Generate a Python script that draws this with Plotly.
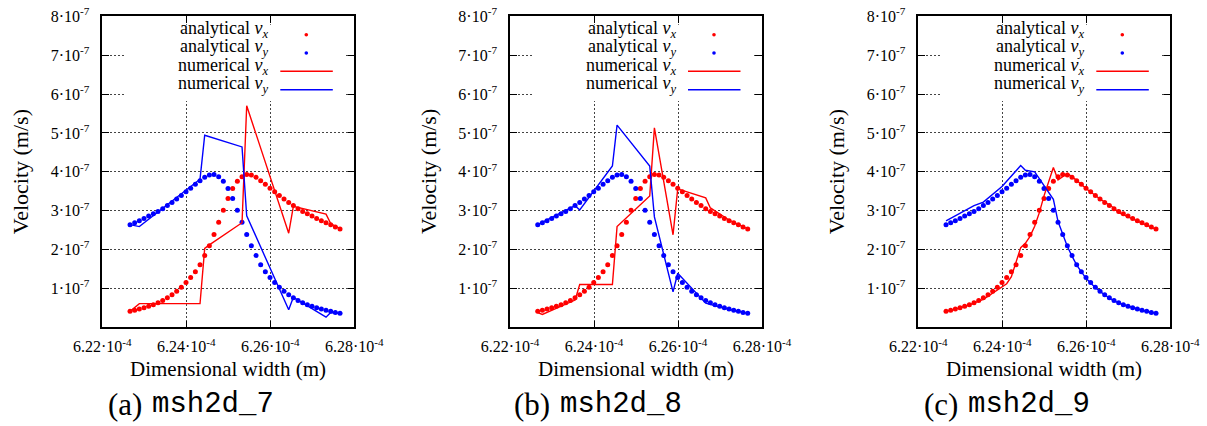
import plotly.graph_objects as go

W, H = 1207, 426
X_UNIT = 1e-4   # x values below are in units of 1e-4 m
V_UNIT = 1e-7   # velocities below are in units of 1e-7 m/s

# ---------------- analytical solution (same in all panels) ----------------
x_analytical = [6.22660, 6.22771, 6.22882, 6.22993, 6.23104, 6.23216, 6.23327, 6.23438,
                6.23549, 6.23660, 6.23771, 6.23882, 6.23993, 6.24104, 6.24216, 6.24327,
                6.24438, 6.24549, 6.24660, 6.24771, 6.24882, 6.24993, 6.25104, 6.25216,
                6.25327, 6.25438, 6.25549, 6.25660, 6.25771, 6.25882, 6.25993, 6.26104,
                6.26216, 6.26327, 6.26438, 6.26549, 6.26660, 6.26771, 6.26882, 6.26993,
                6.27104, 6.27216, 6.27327, 6.27438, 6.27549, 6.27660]
vx_analytical = [0.41, 0.44, 0.47, 0.50, 0.54, 0.58, 0.63, 0.69, 0.76, 0.84, 0.93, 1.03,
                 1.15, 1.28, 1.43, 1.61, 1.85, 2.10, 2.39, 2.70, 3.01, 3.31, 3.57, 3.76,
                 3.87, 3.93, 3.92, 3.86, 3.77, 3.68, 3.58, 3.49, 3.39, 3.30, 3.21, 3.13,
                 3.05, 2.98, 2.92, 2.86, 2.80, 2.74, 2.69, 2.64, 2.58, 2.53]
vy_analytical = [2.64, 2.69, 2.74, 2.80, 2.86, 2.92, 2.98, 3.05, 3.13, 3.21, 3.30, 3.39,
                 3.49, 3.58, 3.68, 3.77, 3.86, 3.92, 3.93, 3.87, 3.76, 3.57, 3.31, 3.01,
                 2.70, 2.39, 2.10, 1.85, 1.61, 1.43, 1.28, 1.15, 1.03, 0.93, 0.84, 0.76,
                 0.69, 0.63, 0.58, 0.54, 0.50, 0.47, 0.44, 0.41, 0.38, 0.36]

# ---------------- numerical solutions ----------------
# (a) msh2d_7
num_a_vx_x = [6.22660, 6.22882, 6.24327, 6.24438, 6.24549, 6.25327, 6.25438, 6.26438,
              6.26549, 6.27327, 6.27438, 6.27660]
num_a_vx = [0.41, 0.61, 0.61, 2.03, 2.12, 2.69, 5.70, 2.42, 3.11, 2.91, 2.67, 2.54]
num_a_vy_x = [6.22660, 6.22882, 6.24327, 6.24438, 6.25327, 6.25438, 6.26438, 6.26549,
              6.27327, 6.27438, 6.27660]
num_a_vy = [2.64, 2.59, 3.81, 4.94, 4.64, 2.87, 0.45, 0.77, 0.26, 0.38, 0.36]

# (b) msh2d_8
num_b_vx_x = [6.22660, 6.22771, 6.23549, 6.23660, 6.24438, 6.24549, 6.25327, 6.25438,
              6.25882, 6.25993, 6.26660, 6.26771, 6.27216, 6.27660]
num_b_vx = [0.38, 0.33, 0.70, 1.10, 1.10, 2.59, 3.38, 5.13, 2.38, 3.56, 3.33, 3.07, 2.76, 2.53]
num_b_vy_x = [6.22660, 6.23549, 6.23660, 6.24438, 6.24549, 6.25327, 6.25438, 6.25882,
              6.25993, 6.26660, 6.27104, 6.27660]
num_b_vy = [2.64, 3.13, 3.02, 4.15, 5.20, 4.15, 2.84, 0.91, 1.39, 0.62, 0.49, 0.36]

# (c) msh2d_9
num_c_vx_x = [6.22660, 6.23104, 6.23549, 6.23993, 6.24104, 6.24216, 6.24327, 6.24438,
              6.24549, 6.24660, 6.24771, 6.24882, 6.24993, 6.25104, 6.25216, 6.25327,
              6.25549, 6.25771, 6.25993, 6.26327, 6.26660, 6.26771, 6.27104, 6.27660]
num_c_vx = [0.41, 0.53, 0.72, 1.03, 1.12, 1.30, 1.65, 2.05, 2.16, 2.34, 2.60, 2.95,
            3.38, 3.75, 4.11, 3.79, 3.96, 3.78, 3.57, 3.30, 3.07, 2.95, 2.79, 2.52]
num_c_vy_x = [6.22660, 6.23327, 6.23549, 6.23993, 6.24438, 6.24549, 6.24771, 6.25216,
              6.25327, 6.25438, 6.25549, 6.25660, 6.25771, 6.25993, 6.26216, 6.26438,
              6.26660, 6.26882, 6.27104, 6.27327, 6.27660]
num_c_vy = [2.74, 3.13, 3.22, 3.62, 4.16, 4.04, 4.00, 3.29, 2.72, 2.38, 2.08, 1.83,
            1.60, 1.26, 1.02, 0.83, 0.68, 0.58, 0.50, 0.44, 0.36]

# ---------------- labels ----------------
x_tick_values = [6.22, 6.24, 6.26, 6.28]
x_tick_labels = ["6.22·10<sup>-4</sup>", "6.24·10<sup>-4</sup>",
                 "6.26·10<sup>-4</sup>", "6.28·10<sup>-4</sup>"]
y_tick_values = [1, 2, 3, 4, 5, 6, 7, 8]
y_tick_labels = ["1·10<sup>-7</sup>", "2·10<sup>-7</sup>", "3·10<sup>-7</sup>",
                 "4·10<sup>-7</sup>", "5·10<sup>-7</sup>", "6·10<sup>-7</sup>",
                 "7·10<sup>-7</sup>", "8·10<sup>-7</sup>"]
legend_labels = ["analytical <i>v<sub>x</sub></i>", "analytical <i>v<sub>y</sub></i>",
                 "numerical <i>v<sub>x</sub></i>", "numerical <i>v<sub>y</sub></i>"]
panel_letters = ["(a)", "(b)", "(c)"]
mesh_names = ["msh2d_7", "msh2d_8", "msh2d_9"]
x_title = "Dimensional width (m)"
y_title = "Velocity (m/s)"

numerical = [
    (num_a_vx_x, num_a_vx, num_a_vy_x, num_a_vy),
    (num_b_vx_x, num_b_vx, num_b_vy_x, num_b_vy),
    (num_c_vx_x, num_c_vx, num_c_vy_x, num_c_vy),
]

# ---------------- layout geometry (pixels) ----------------
RED = "#ff0000"
BLUE = "#0000ff"
SERIF = "Liberation Serif, Times New Roman, serif"
MONO = "Liberation Mono, Courier New, monospace"
PLOT_LEFTS = [102.3, 510.0, 918.3]
PLOT_W = 252.0
PLOT_TOP, PLOT_BOT = 16.3, 327.3
PLOT_H = PLOT_BOT - PLOT_TOP


def px(x):
    return x / W


def py(y):
    return 1 - y / H


fig = go.Figure()
layout = dict(
    template="none",
    width=W, height=H, autosize=False,
    margin=dict(l=0, r=0, t=0, b=0, pad=0, autoexpand=False),
    paper_bgcolor="white", plot_bgcolor="white",
    showlegend=False,
    font=dict(family=SERIF, color="black"),
)
shapes = []
annotations = []

for k in range(3):
    n = "" if k == 0 else str(k + 1)
    xa, ya = "x" + n, "y" + n
    L = PLOT_LEFTS[k]
    nvx_x, nvx, nvy_x, nvy = numerical[k]

    fig.add_trace(go.Scatter(
        x=[v * X_UNIT for v in x_analytical], y=[v * V_UNIT for v in vx_analytical],
        mode="markers", marker=dict(color=RED, size=5, line=dict(width=0)),
        xaxis=xa, yaxis=ya))
    fig.add_trace(go.Scatter(
        x=[v * X_UNIT for v in x_analytical], y=[v * V_UNIT for v in vy_analytical],
        mode="markers", marker=dict(color=BLUE, size=5, line=dict(width=0)),
        xaxis=xa, yaxis=ya))
    fig.add_trace(go.Scatter(
        x=[v * X_UNIT for v in nvx_x], y=[v * V_UNIT for v in nvx],
        mode="lines", line=dict(color=RED, width=1.4), xaxis=xa, yaxis=ya))
    fig.add_trace(go.Scatter(
        x=[v * X_UNIT for v in nvy_x], y=[v * V_UNIT for v in nvy],
        mode="lines", line=dict(color=BLUE, width=1.4), xaxis=xa, yaxis=ya))

    common = dict(
        automargin=False,
        showline=True, linecolor="black", linewidth=1.6, mirror="ticks",
        ticks="inside", ticklen=7, tickwidth=1.2, tickcolor="black",
        showgrid=True, gridcolor="#444", gridwidth=1, griddash="1.5px,2.5px",
        zeroline=False, tickfont=dict(family=SERIF, size=16, color="black"),
        tickmode="array", tickangle=0,
    )
    layout["xaxis" + n] = dict(
        common, domain=[px(L), px(L + PLOT_W)], anchor=ya,
        range=[x_tick_values[0] * X_UNIT, x_tick_values[-1] * X_UNIT],
        tickvals=[v * X_UNIT for v in x_tick_values], ticktext=x_tick_labels,
        ticklabelstandoff=4,
    )
    layout["yaxis" + n] = dict(
        common, domain=[py(PLOT_BOT), py(PLOT_TOP)], anchor=xa,
        range=[0, 8 * V_UNIT],
        tickvals=[v * V_UNIT for v in y_tick_values], ticktext=y_tick_labels,
        ticklabelstandoff=8,
    )

    # opaque key box (leaves the inside tick marks on the border visible)
    shapes.append(dict(type="rect", xref="paper", yref="paper",
                       x0=px(L + 22), x1=px(L + PLOT_W - 8.5),
                       y0=py(101), y1=py(PLOT_TOP + 8.5),
                       fillcolor="white", line=dict(width=0)))
    row_y = [34.7, 53.0, 71.3, 89.7]
    for r in range(4):
        annotations.append(dict(
            xref="paper", yref="paper", x=px(L + 168), y=py(row_y[r] - 5),
            xanchor="right", yanchor="middle",
            text=legend_labels[r], showarrow=False,
            font=dict(family=SERIF, size=18, color="black")))
        col = RED if r % 2 == 0 else BLUE
        if r < 2:
            shapes.append(dict(type="circle", xref="paper", yref="paper",
                               x0=px(L + 202.2), x1=px(L + 205.8),
                               y0=py(row_y[r] + 1.8), y1=py(row_y[r] - 1.8),
                               fillcolor=col, line=dict(width=0)))
        else:
            shapes.append(dict(type="line", xref="paper", yref="paper",
                               x0=px(L + 178), x1=px(L + 230.5),
                               y0=py(row_y[r]), y1=py(row_y[r]),
                               line=dict(color=col, width=1.4)))

    # axis titles
    annotations.append(dict(xref="paper", yref="paper", x=px(L + PLOT_W / 2), y=py(369),
                            xanchor="center", yanchor="middle", text=x_title,
                            showarrow=False, font=dict(family=SERIF, size=21)))
    annotations.append(dict(xref="paper", yref="paper", x=px(L - 82), y=py(172),
                            xanchor="center", yanchor="middle", text=y_title, textangle=-90,
                            showarrow=False, font=dict(family=SERIF, size=22)))
    # sub-figure caption
    annotations.append(dict(xref="paper", yref="paper", x=px(L + 42), y=py(404),
                            xanchor="right", yanchor="middle", text=panel_letters[k],
                            showarrow=False, font=dict(family=SERIF, size=31)))
    annotations.append(dict(xref="paper", yref="paper", x=px(L + 48), y=py(404),
                            xanchor="left", yanchor="middle", text=mesh_names[k],
                            showarrow=False, font=dict(family=MONO, size=29)))

layout["shapes"] = shapes
layout["annotations"] = annotations
fig.update_layout(**layout)
fig.write_html("out.html", config={"displayModeBar": False},
               post_script="document.body.style.margin='0px';")
